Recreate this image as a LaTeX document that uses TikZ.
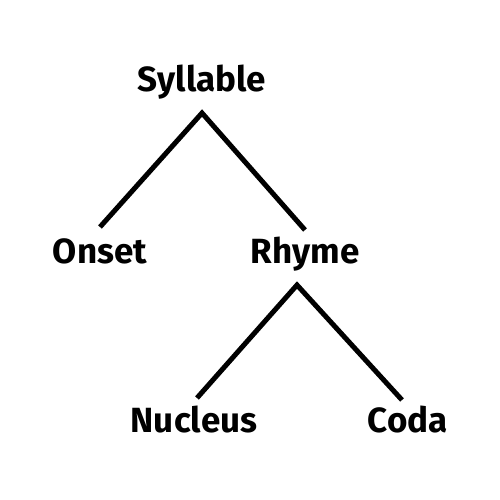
\documentclass[tikz,border=0pt]{standalone}
\usepackage{fontspec}
\setmainfont{Fira Sans}
\begin{document}
\begin{tikzpicture}[x=1pt,y=-1pt,
  lbl/.style={font=\fontsize{35}{37}\selectfont\bfseries, inner sep=0pt, anchor=base},
  edge/.style={line width=5pt}]
\useasboundingbox (0,0) rectangle (500,500);
\node[lbl] (syl) at (202,92) {Syllable};
\node[lbl] (onset) at (100,263) {Onset};
\node[lbl] (rhyme) at (305,263) {Rhyme};
\node[lbl] (nuc) at (194,432) {Nucleus};
\node[lbl] (coda) at (408,432) {Coda};
\coordinate (s1) at (202,113);
\coordinate (o1) at (100,227);
\coordinate (r1) at (305,230);
\coordinate (r2) at (297,285);
\coordinate (n1) at (197,398);
\coordinate (c1) at (402,400);
\draw[edge] (o1) -- (s1) -- (r1);
\draw[edge] (n1) -- (r2) -- (c1);
\end{tikzpicture}
\end{document}
